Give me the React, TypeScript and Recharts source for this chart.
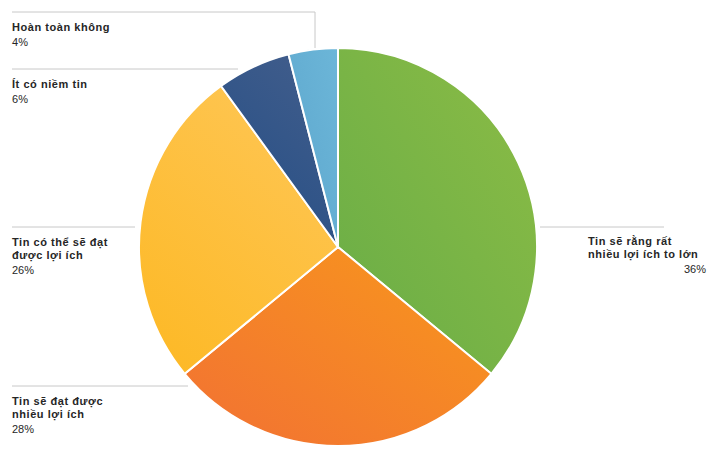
import { PieChart, Pie, Cell } from 'recharts';

const categories = [
  'Tin sẽ rằng rất nhiều lợi ích to lớn',
  'Tin sẽ đạt được nhiều lợi ích',
  'Tin có thể sẽ đạt được lợi ích',
  'Ít có niềm tin',
  'Hoàn toàn không',
];
const shares = [36, 28, 26, 6, 4];
// label text wrapped as in the original
const labelRows = [
  ['Tin sẽ rằng rất', 'nhiều lợi ích to lớn'],
  ['Tin sẽ đạt được', 'nhiều lợi ích'],
  ['Tin có thể sẽ đạt', 'được lợi ích'],
  ['Ít có niềm tin'],
  ['Hoàn toàn không'],
];

const gradients = [
  ['#8cbc45', '#68ad47'],
  ['#f8981c', '#f27133'],
  ['#fec551', '#fdb823'],
  ['#3f5c8b', '#224d85'],
  ['#6cb6d8', '#5ca6cd'],
];

const data = categories.map((name, i) => ({ name, value: shares[i] }));

// where Excel placed each callout
const labelLayout = [
  { line: [[540, 227], [664, 227]], x: 588, y: 245, align: 'right', pctX: 706 },
  { line: [[12, 386], [188, 386]], x: 12, y: 405, align: 'left', pctX: 12 },
  { line: [[12, 227], [135, 227]], x: 12, y: 246, align: 'left', pctX: 12 },
  { line: [[12, 69], [238, 69]], x: 12, y: 88, align: 'left', pctX: 12 },
  { line: [[12, 12], [315, 12], [315, 48]], x: 12, y: 31, align: 'left', pctX: 12 },
];

const font = '"Liberation Sans", Arial, sans-serif';

const renderLabel = (props: any) => {
  const i = props.index;
  const l = labelLayout[i];
  const rows = labelRows[i];
  const pts = l.line.map((p) => p.join(',')).join(' ');
  return (
    <g key={'lbl' + i}>
      <polyline points={pts} fill="none" stroke="#c8c8c8" strokeWidth={1} />
      {rows.map((r, k) => (
        <text key={k} x={l.x} y={l.y + k * 12.5} fontFamily={font} fontSize={11} fontWeight="bold" fill="#262626" letterSpacing={0.55}>
          {r}
        </text>
      ))}
      <text
        x={l.pctX}
        y={l.y + (rows.length - 1) * 12.5 + 15}
        fontFamily={font}
        fontSize={11}
        fill="#262626"
        textAnchor={l.align === 'right' ? 'end' : 'start'}
      >
        {shares[i]}%
      </text>
    </g>
  );
};

export default function App() {
  return (
    <div style={{ position: 'absolute', left: 0, top: 0, background: '#fff' }}>
      <PieChart width={722} height={457} margin={{ top: 0, right: 0, bottom: 0, left: 0 }}>
        <defs>
          {gradients.map((g, i) => (
            <linearGradient key={i} id={'g' + i} x1={i === 2 || i === 3 ? 0.6 : 1} y1={0} x2={0} y2={1}>
              <stop offset="0%" stopColor={g[0]} />
              <stop offset="100%" stopColor={g[1]} />
            </linearGradient>
          ))}
        </defs>
        <Pie
          data={data}
          dataKey="value"
          nameKey="name"
          cx={338}
          cy={247}
          outerRadius={199}
          startAngle={90}
          endAngle={-270}
          stroke="#fff"
          strokeWidth={2}
          label={renderLabel}
          labelLine={false}
          isAnimationActive={false}
        >
          {data.map((_, i) => (
            <Cell key={i} fill={`url(#g${i})`} />
          ))}
        </Pie>
      </PieChart>
    </div>
  );
}
